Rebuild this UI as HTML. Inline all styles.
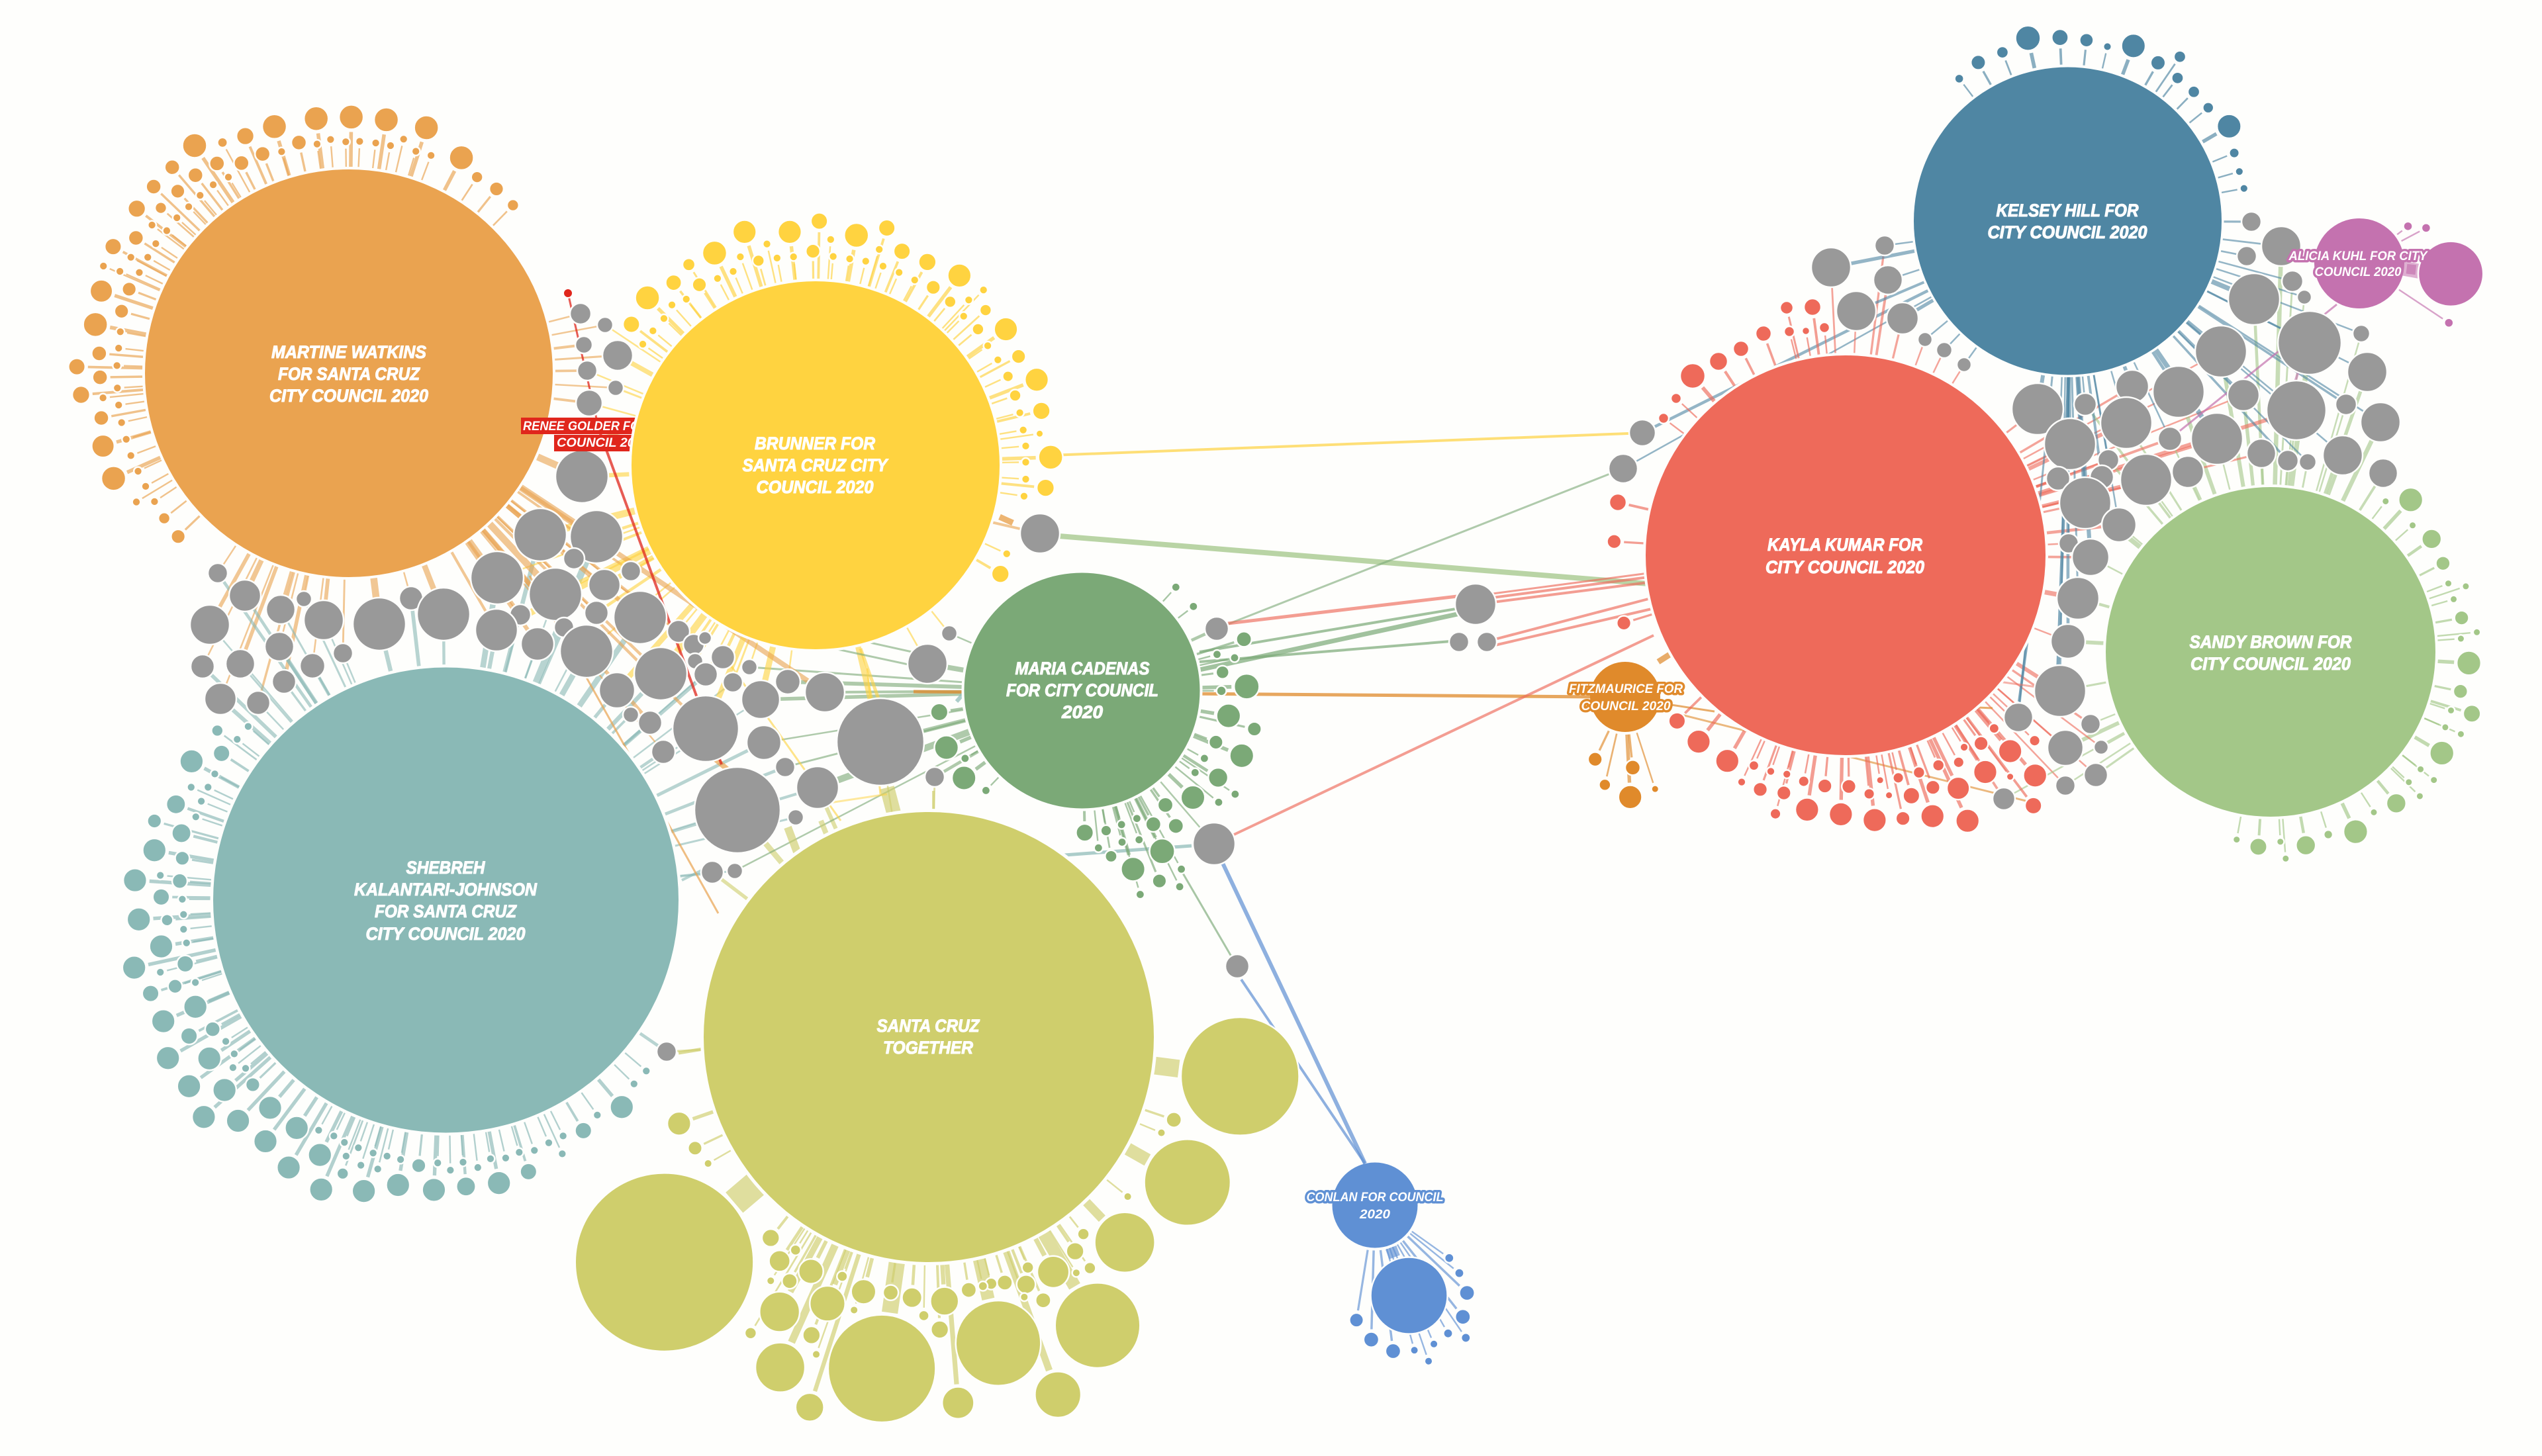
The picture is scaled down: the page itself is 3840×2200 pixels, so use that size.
<!DOCTYPE html>
<html><head><meta charset="utf-8"><title>Santa Cruz City Council 2020 donors</title>
<style>
html,body{margin:0;padding:0;background:#FEFEFC;width:3840px;height:2200px;overflow:hidden}
svg{display:block}
text{font-family:"Liberation Sans",sans-serif;font-weight:700;font-style:italic;fill:#fff;text-anchor:middle}
.m{font-size:27px;stroke:#fff;stroke-width:1.1px;stroke-linejoin:round}
.s{font-size:19px;paint-order:stroke;stroke-width:7px;stroke-linejoin:round}
</style></head>
<body>
<svg xmlns="http://www.w3.org/2000/svg" width="3840" height="2200" viewBox="0 0 3840 2200">
<rect width="3840" height="2200" fill="#FEFEFC"/>
<g id="b"></g>
<g fill="#FEFEFC">
<circle cx="673.5" cy="1360" r="356"/><circle cx="1403" cy="1567" r="345"/><circle cx="1634.5" cy="1043.5" r="182"/><circle cx="527" cy="564" r="312"/><circle cx="2788" cy="839" r="306"/><circle cx="3123.5" cy="334" r="236"/><circle cx="3430" cy="985" r="253"/>
</g>
<circle cx="673.5" cy="1360" r="351.5" fill="#8AB9B6"/>
<circle cx="1403" cy="1567" r="340" fill="#CFCE6C"/>
<circle cx="1634.5" cy="1043.5" r="178" fill="#7BA977"/>
<circle cx="527" cy="564" r="308" fill="#EAA350"/>
<rect x="787" y="631" width="175" height="25" fill="#E0261C"/>
<rect x="837" y="657" width="125" height="25" fill="#E0261C"/>
<text class="s" x="790" y="650" stroke="#E0261C" textLength="236" lengthAdjust="spacingAndGlyphs" style="text-anchor:start">RENEE GOLDER FOR CITY</text>
<text class="s" x="841" y="675" stroke="#E0261C" textLength="140" lengthAdjust="spacingAndGlyphs" style="text-anchor:start">COUNCIL 2020</text>
<circle cx="1232" cy="703" r="282" fill="#FEFEFC"/>
<circle cx="1232" cy="703" r="278" fill="#FFD340"/>
<circle cx="2788" cy="839" r="302" fill="#EE6A5A"/>
<circle cx="3123.5" cy="334" r="232.5" fill="#4F86A3"/>
<circle cx="3430" cy="985" r="249" fill="#A3C788"/>
<circle cx="3564" cy="398" r="68" fill="#C472AF"/>
<circle cx="2077" cy="1821" r="64.5" fill="#5F90D4"/>
<circle cx="2455" cy="1053" r="53" fill="#E08A2B"/>

<text class="m" x="527" y="541" textLength="234" lengthAdjust="spacingAndGlyphs">MARTINE WATKINS</text>
<text class="m" x="527" y="574" textLength="214" lengthAdjust="spacingAndGlyphs">FOR SANTA CRUZ</text>
<text class="m" x="527" y="607" textLength="240" lengthAdjust="spacingAndGlyphs">CITY COUNCIL 2020</text>

<text class="m" x="1231" y="679" textLength="182" lengthAdjust="spacingAndGlyphs">BRUNNER FOR</text>
<text class="m" x="1231" y="712" textLength="219" lengthAdjust="spacingAndGlyphs">SANTA CRUZ CITY</text>
<text class="m" x="1231" y="745" textLength="177" lengthAdjust="spacingAndGlyphs">COUNCIL 2020</text>

<text class="m" x="1635" y="1019" textLength="203" lengthAdjust="spacingAndGlyphs">MARIA CADENAS</text>
<text class="m" x="1635" y="1052" textLength="230" lengthAdjust="spacingAndGlyphs">FOR CITY COUNCIL</text>
<text class="m" x="1635" y="1085" textLength="62" lengthAdjust="spacingAndGlyphs">2020</text>

<text class="m" x="673" y="1320" textLength="119" lengthAdjust="spacingAndGlyphs">SHEBREH</text>
<text class="m" x="673" y="1353" textLength="276" lengthAdjust="spacingAndGlyphs">KALANTARI-JOHNSON</text>
<text class="m" x="673" y="1386" textLength="214" lengthAdjust="spacingAndGlyphs">FOR SANTA CRUZ</text>
<text class="m" x="673" y="1420" textLength="241" lengthAdjust="spacingAndGlyphs">CITY COUNCIL 2020</text>

<text class="m" x="1402" y="1559" textLength="155" lengthAdjust="spacingAndGlyphs">SANTA CRUZ</text>
<text class="m" x="1402" y="1592" textLength="136" lengthAdjust="spacingAndGlyphs">TOGETHER</text>

<text class="m" x="2787" y="832" textLength="234" lengthAdjust="spacingAndGlyphs">KAYLA KUMAR FOR</text>
<text class="m" x="2787" y="866" textLength="240" lengthAdjust="spacingAndGlyphs">CITY COUNCIL 2020</text>

<text class="m" x="3123" y="327" textLength="215" lengthAdjust="spacingAndGlyphs">KELSEY HILL FOR</text>
<text class="m" x="3123" y="360" textLength="241" lengthAdjust="spacingAndGlyphs">CITY COUNCIL 2020</text>

<text class="m" x="3430" y="979" textLength="245" lengthAdjust="spacingAndGlyphs">SANDY BROWN FOR</text>
<text class="m" x="3430" y="1012" textLength="242" lengthAdjust="spacingAndGlyphs">CITY COUNCIL 2020</text>

<text class="s" x="3562" y="393" stroke="#C472AF" textLength="209" lengthAdjust="spacingAndGlyphs">ALICIA KUHL FOR CITY</text>
<text class="s" x="3562" y="417" stroke="#C472AF" textLength="131" lengthAdjust="spacingAndGlyphs">COUNCIL 2020</text>

<text class="s" x="2077" y="1815" stroke="#5F90D4" textLength="207" lengthAdjust="spacingAndGlyphs">CONLAN FOR COUNCIL</text>
<text class="s" x="2077" y="1841" stroke="#5F90D4" textLength="46" lengthAdjust="spacingAndGlyphs">2020</text>

<text class="s" x="2456" y="1047" stroke="#E08A2B" textLength="172" lengthAdjust="spacingAndGlyphs">FITZMAURICE FOR</text>
<text class="s" x="2456" y="1073" stroke="#E08A2B" textLength="135" lengthAdjust="spacingAndGlyphs">COUNCIL 2020</text>
</svg>
<script>
(function(){
var NS="http://www.w3.org/2000/svg",root=document.getElementById("b");
var H={O:[527,564,308,"#EAA350"],Y:[1232,703,278,"#FFD340"],G:[1634.5,1043.5,178,"#7BA977"],T:[673.5,1360,351.5,"#8AB9B6"],L:[1403,1567,340,"#CFCE6C"],R:[2788,839,302,"#EE6A5A"],K:[3123.5,334,232.5,"#4F86A3"],S:[3430,985,249,"#A3C788"],A:[3564,398,68,"#C472AF"],C:[2077,1821,64.5,"#5F90D4"],F:[2455,1053,53,"#E08A2B"]};
var Z={1:[1.568,1.742,0,100],2:[1.206,1.96,700,650],3:[1.568,1.742,100,1000],4:[1.12,2.24,850,1500],5:[1.568,2.851,2300,800],6:[1.425,1.96,2700,0],7:[1.742,1.845,2900,500],8:[1.568,2.529,700,280]};
var gL=document.createElementNS(NS,"g"),gS=document.createElementNS(NS,"g"),gC=document.createElementNS(NS,"g");
root.appendChild(gL);root.appendChild(gS);root.appendChild(gC);
function line(p,x1,y1,x2,y2,c,w,o){var e=document.createElementNS(NS,"line");e.setAttribute("x1",x1);e.setAttribute("y1",y1);e.setAttribute("x2",x2);e.setAttribute("y2",y2);e.setAttribute("stroke",c);e.setAttribute("stroke-width",w);e.setAttribute("opacity",o);p.appendChild(e);}
function circ(x,y,r,c,sw){var e=document.createElementNS(NS,"circle");e.setAttribute("cx",x);e.setAttribute("cy",y);e.setAttribute("r",r);e.setAttribute("fill",c);e.setAttribute("stroke","#FEFEFC");e.setAttribute("stroke-width",sw);gC.appendChild(e);}
function sat(h,x,y,r){var a=H[h],dx=x-a[0],dy=y-a[1],d=Math.sqrt(dx*dx+dy*dy),ux=dx/d,uy=dy/d;
 line(gS,a[0]+ux*(a[2]+4),a[1]+uy*(a[2]+4),x-ux*(r+4),y-uy*(r+4),a[3],Math.max(2.4,r*0.3),0.65);
 circ(x,y,r,a[3],2.5);}
function add(h,z,l){var t=Z[z];for(var i=0;i<l.length;i+=3){sat(h,l[i]/t[0]+t[2],l[i+1]/t[1]+t[3],l[i+2]/t[0]);}}

add("O",1,[1093,241,29,1010,162,29,915,141,29,832,134,29,749,138,29,650,159,29,581,184,21,527,201,12,461,209,29,408,266,18,364,317,18,324,375,21,268,475,20,322,452,18,245,526,10,240,592,27,226,680,29,235,756,18,182,791,20,237,819,18,192,865,21,240,926,18,244,1000,27,269,1085,29,323,1147,10,389,1190,14,422,1238,17,1130,292,14,1176,323,17,1215,366,14,1021,235,10,985,224,10,956,192,10,925,209,10,890,202,10,852,198,10,819,199,10,783,193,10,751,205,10,708,201,18,667,225,10,622,231,18,572,255,18,541,292,10,514,256,18,463,287,18,505,312,10,474,340,10,421,329,17,381,373,14,447,370,10,419,399,10,395,433,10,360,418,10,369,467,10,350,503,10,310,503,10,284,540,10,330,543,10,306,587,17,288,645,17,285,699,10,281,742,10,277,788,10,278,847,10,244,873,10,281,892,10,288,938,10,299,982,10,310,1025,10,327,1066,10,345,1106,10,366,1146,10]);

add("Y",8,[398,531,20,436,430,29,498,372,19,595,259,29,534,303,15,666,178,28,773,178,28,843,137,20,931,191,29,1003,163,20,1039,252,20,1099,293,21,1175,345,28,1232,400,10,1237,477,14,1285,550,28,1315,654,17,1358,743,28,1369,862,21,1391,1039,29,1379,1156,21,1365,949,9,425,607,10,449,556,10,475,509,10,494,457,10,528,435,10,559,380,17,602,356,10,639,329,10,656,273,10,699,288,14,719,224,10,743,278,10,782,273,10,828,252,17,870,207,10,876,272,10,915,281,10,953,290,10,985,245,10,994,309,10,1032,333,10,1069,362,10,1113,390,17,1153,445,14,1197,438,10,1185,500,10,1219,550,14,1242,613,10,1266,667,10,1290,730,13,1307,803,14,1318,869,10,1326,935,10,1332,996,10,1332,1058,10,1332,1123,10,1328,1188,10,1287,1408,10,1272,1485,21]);

add("G",2,[1298,465,8,1330,522,8,1422,619,14,1373,664,8,1405,674,8,1383,717,12,1427,759,23,1381,772,9,1394,846,22,1441,885,13,1371,924,13,1418,964,22,1350,972,8,1333,1014,8,1375,1029,18,1406,1078,8,1329,1088,22,1376,1102,8,1279,1110,14,1298,1172,14,1227,1150,8,1257,1167,14,1199,1168,8,1171,1186,10,1132,1192,16,1231,1213,8,1200,1220,8,1273,1247,23,1157,1237,8,1180,1262,11,1220,1300,22,1308,1300,8,1268,1335,13,1305,1352,8,1233,1375,8,867,835,16,880,940,22,914,972,8,912,1030,22,952,1067,8]);

add("T",3,[358,181,14,368,241,20,297,262,28,431,170,10,405,204,10,352,295,10,336,330,10,296,330,10,320,367,10,307,408,10,260,375,23,209,419,17,273,451,23,209,496,28,275,517,17,163,575,28,223,562,10,269,577,18,225,619,20,275,625,10,172,678,28,239,680,14,278,665,10,278,704,10,225,749,28,285,740,10,282,795,20,161,805,28,223,817,10,258,854,17,306,844,10,200,873,20,306,908,28,230,946,28,347,967,18,291,985,20,241,1043,28,378,999,10,339,1044,28,398,1032,10,395,1068,10,425,1070,10,291,1117,28,375,1127,28,442,1113,17,326,1198,28,407,1208,28,483,1174,28,546,1227,28,472,1262,28,598,1233,10,634,1248,10,527,1331,28,601,1298,28,659,1265,10,692,1279,10,663,1301,10,655,1347,14,698,1325,10,604,1389,28,705,1393,28,727,1293,10,760,1301,10,738,1335,10,786,1377,28,792,1310,10,835,1326,17,871,1390,28,880,1319,10,910,1338,10,940,1317,10,947,1381,23,975,1331,10,1005,1308,10,1025,1372,28,1041,1306,10,1073,1291,10,1095,1342,20,1109,1286,10,1143,1266,10,1175,1295,10,1177,1248,10,1225,1234,20,1258,1193,10,1316,1172,28,1345,1111,10,1374,1077,10]);

add("L",4,[197,443,20,224,526,12,246,578,7,1034,430,13,1013,474,7,956,690,7,881,817,10,867,875,15,892,932,10,869,948,7,830,945,27,787,930,10,784,987,16,813,1041,13,781,1030,7,748,981,13,725,985,10,711,993,8,687,1006,13,646,1044,24,591,1032,17,611,1093,9,638,1140,15,555,1015,13,509,1012,21,473,960,9,448,1052,30,420,943,21,394,871,9,352,830,15,367,908,18,384,976,13,352,975,7,493,1074,7,367,1080,34,421,1159,15,429,1224,7,318,1152,10,368,1268,42,418,1403,24,540,1272,91,669,1388,27,737,1186,72,838,1360,39,905,1126,72,951,845,51,1057,642,73,1146,283,100,172,912,151]);

add("R",5,[217,52,17,240,403,17,366,825,20,417,914,28,485,997,28,519,1088,10,548,1017,12,563,1120,17,588,1042,10,626,1054,10,619,1135,17,599,1225,13,666,1085,13,674,1207,28,716,1105,17,773,1107,17,754,1227,28,821,1139,13,834,1252,28,847,1080,9,868,1145,9,890,1070,13,901,1245,17,921,1147,20,939,1047,14,971,1235,28,972,1111,17,985,1016,14,1032,1115,27,1033,1003,13,1054,1255,28,1096,1045,28,1046,938,10,1086,922,17,1117,857,12,1155,955,28,1155,1065,9,1214,1060,28,1213,910,13,1210,1190,20]);
[[2557,568,19],[2596,546,14],[2630,527,12],[2664,504,12],[2699,465,10],[2738,464,13],[2703,501,8],[2728,500,6],[2756,495,8],[2532,602,8],[2513,632,8],[2444,759,13]].forEach(function(a){sat("R",a[0],a[1],a[2]);});

add("K",6,[370,233,10,411,185,16,463,155,13,518,113,27,587,111,18,644,119,15,689,138,9,745,136,26,798,186,16,845,168,13,840,231,13,875,272,13,906,319,12,951,374,26,962,453,11,973,508,9,983,558,9]);

add("S",7,[1226,475,10,1292,471,32,1297,542,10,1347,580,26,1377,648,19,1391,704,10,1437,712,10,1405,748,10,1426,800,19,1466,840,10,1424,858,10,1445,926,32,1423,1005,19,1398,1058,10,1453,1067,23,1383,1105,10,1424,1124,10,1374,1177,32,1318,1222,10,1353,1252,10,1287,1258,10,1316,1297,10,1254,1317,26,1195,1342,10,1147,1396,32,1075,1404,12,1016,1434,26,949,1424,10,963,1471,10,891,1438,23,834,1418,10]);

add("C",4,[1500,898,8,1517,949,8,1530,1016,13,1523,1097,13,1498,1153,8,1528,1168,8,1474,1189,7,1441,1210,7,1465,1247,7,1405,1213,13,1368,1174,13,1343,1108,12,1432,1025,65]);
add("F",5,[172,990,17,261,1026,18,195,1100,14,314,1118,9,255,1153,28]);
add("A",6,[1336,670,10,1375,675,10,1424,956,10,1428,811,70]);

var G=[[877,474,16,"O"],[914,491,12,"OY"],[882,521,13,"O"],[933,537,23,"OY"],[887,560,15,"OY"],[930,586,12,"OY"],[890,609,20,"OY"],[879,720,40,"OY"],
[816,808,40,"OYT"],[901,811,40,"OYT"],[867,844,16,"OY"],[751,873,40,"OYT"],[839,898,40,"OYT"],[913,884,24,"OY"],[953,863,15,"OY"],[901,926,18,"OYT"],[967,933,40,"OYT"],[786,929,16,"OT"],[750,952,32,"OYT"],[812,973,25,"OT"],[852,948,15,"OT"],[886,984,40,"OYT"],[932,1043,27,"YT"],[998,1018,40,"OYT"],[1025,954,17,"OY"],[1048,974,16,"OY"],[1065,964,10,"Y"],[1050,999,12,"Y"],[1066,1019,18,"YT"],[1092,993,18,"YT"],[1132,1008,12,"YG"],[1107,1031,15,"YT"],[1149,1057,29,"YGT"],[1190,1030,19,"YG"],[1246,1046,30,"OG"],[1401,1003,30,"YG"],[1434,957,12,"YG"],[953,1080,12,"T"],[982,1092,18,"TO"],[1002,1136,18,"TO"],[1066,1101,50,"TYO"],[1154,1122,26,"TG"],[1186,1159,15,"TG"],[1235,1190,32,"TGL"],[1202,1235,12,"T"],[1114,1224,65,"TL"],[1330,1121,66,"GLY"],[1412,1174,15,"GL"],[1076,1318,17,"TL"],[1110,1316,12,"TG"],
[333,1056,24,"OT"],[390,1062,18,"OT"],[429,1030,18,"OT"],[306,1007,18,"OT"],[363,1003,22,"OT"],[472,1006,19,"OT"],[317,944,30,"OT"],[370,900,24,"OT"],[329,866,15,"OT"],[424,921,22,"OT"],[459,905,12,"OT"],[489,937,30,"OT"],[573,943,40,"OT"],[621,904,18,"OT"],[670,928,40,"OT"],[422,977,22,"OT"],[518,987,15,"OT"],[1007,1589,15,"TL"],
[1571,806,30,"O"],[1838,950,18,"G"],[1834,1275,32,"G"],[1869,1460,18,""],
[2481,654,20,"K"],[2452,708,22,"K"],[2229,913,31,""],[2204,970,15,""],[2246,970,15,""],
[3401,335,15,"K"],[3446,372,30,"KS"],[3394,387,15,"K"],[3463,425,16,"KS"],[3481,449,11,"KS"],[3405,452,39,"KS"],[3489,518,48,"KS"],[3567,504,13,"KS"],[3576,562,30,"KS"],[3355,531,39,"KRS"],[3544,611,16,"KS"],[3596,638,30,"KS"],[3389,597,24,"KRS"],[3469,620,45,"KRS"],[3291,592,39,"KRS"],[3221,584,25,"KR"],[3150,611,17,"KS"],[3078,618,39,"KR"],[3212,639,39,"KRS"],[3127,671,39,"KR"],[3349,663,39,"KRS"],[3278,663,18,"KRS"],[3185,695,16,"KRS"],[3539,688,30,"KS"],[3416,685,22,"RS"],[3456,696,16,"KS"],[3486,698,13,"KS"],[3600,715,22,"S"],[3305,713,24,"RS"],[3242,725,39,"RS"],[3175,721,18,"KR"],[3109,723,18,"KR"],[3150,760,39,"KRS"],[3201,793,26,"KRS"],[3125,821,15,"KR"],[3158,842,28,"KRS"],[3139,904,32,"KRS"],[3124,969,26,"KRS"],[3112,1044,39,"KRS"],[3049,1084,22,"KR"],[3158,1094,15,"RS"],[3120,1130,27,"RS"],[3174,1129,11,"RS"],[3166,1171,18,"RS"],[3120,1187,15,"RS"],[3027,1207,17,"RS"],
[2847,371,15,"KR"],[2766,404,30,"KR"],[2852,423,22,"KR"],[2804,470,30,"KR"],[2874,481,24,"KR"],[2908,513,11,"KR"],[2937,529,12,"KR"],[2967,551,11,"KR"]];

G.forEach(function(g,i){var c=g[3];for(var j=0;j<c.length;j++){var k=c[j],h=H[k];
 var w=Math.max(2.5,(2+((i*7+j*3)%5)*1.7)*Math.min(1.2,g[2]/28));
 if(k=="K"||k=="R"||k=="S"){w=Math.max(2.5,w*0.7);}
 line(gL,h[0],h[1],g[0],g[1],h[3],w,0.6);}
 circ(g[0],g[1],g[2],"#999999",2.5);});

var M=[[1587,688,2486,654,"#FFD340",4,.7],[1600,810,2490,882,"#A3C788",8,.75],[1530,790,1510,781,"#EAA350",9,.8],
[1812,1000,2204,968,"#7BA977",4,.7],[1812,1012,2229,922,"#7BA977",7,.7],[1812,985,2229,915,"#7BA977",4,.7],[1850,945,2452,708,"#7BA977",3,.6],
[1855,942,2210,900,"#EE6A5A",5,.65],[2255,903,2490,872,"#EE6A5A",4,.65],[2255,910,2490,880,"#EE6A5A",4,.65],[2255,897,2490,866,"#EE6A5A",3,.65],[2258,966,2490,905,"#EE6A5A",4,.65],[2258,975,2495,920,"#EE6A5A",4,.65],
[1380,1045,2420,1053,"#E08A2B",5,.75],[2505,1000,2560,965,"#E08A2B",9,.7],[2505,1062,2590,1075,"#E08A2B",3,.7],[2540,1080,3060,1210,"#E08A2B",3,.6],
[1860,1263,2498,960,"#EE6A5A",4,.65],
[2062,1758,1845,1300,"#5F90D4",6,.7],[2062,1758,1875,1480,"#5F90D4",4,.7],
[1786,1318,1860,1445,"#7BA977",3,.65],[1608,1292,1800,1278,"#8AB9B6",5,.7],
[1340,1190,1350,1228,"#CFCE6C",22,.65],[1190,1250,1205,1290,"#CFCE6C",12,.65],[1240,1240,1258,1284,"#CFCE6C",8,.6],[1410,1195,1410,1226,"#CFCE6C",4,.65],
[1025,1591,1062,1585,"#CFCE6C",5,.7],[1030,1330,1070,1310,"#8AB9B6",4,.6],
[1240,1215,1340,1200,"#FFD340",3,.5],[1310,1010,1330,1200,"#FFD340",3,.6],[1100,1000,1270,1240,"#FFD340",3,.6],[1300,980,1350,1120,"#FFD340",5,.6],
[1060,1130,1120,1180,"#EAA350",8,.7],[800,870,1085,1380,"#EAA350",3,.7],
[858,443,905,650,"#E0261C",3,.75],[905,650,1090,1155,"#E0261C",4,.75],
[1520,975,1445,1060,"#8AB9B6",6,.7],[1130,930,1400,990,"#7BA977",3,.6],[1120,950,1400,1010,"#7BA977",3,.6],
[3125,566,3108,1030,"#4F86A3",5,.7],[3050,1060,3065,950,"#4F86A3",4,.7],
[3530,460,3278,663,"#C472AF",3,.7],[3500,470,3460,600,"#C472AF",4,.6],[3628,405,3655,410,"#C472AF",22,.55],
[3090,1040,3020,1030,"#EE6A5A",3,.5],[2900,1065,3010,1070,"#E08A2B",3,.7]];
M.forEach(function(m){line(gL,m[0],m[1],m[2],m[3],m[4],m[5],m[6]);});
circ(858,443,7,"#E0261C",2);
})();
</script>
</body></html>
